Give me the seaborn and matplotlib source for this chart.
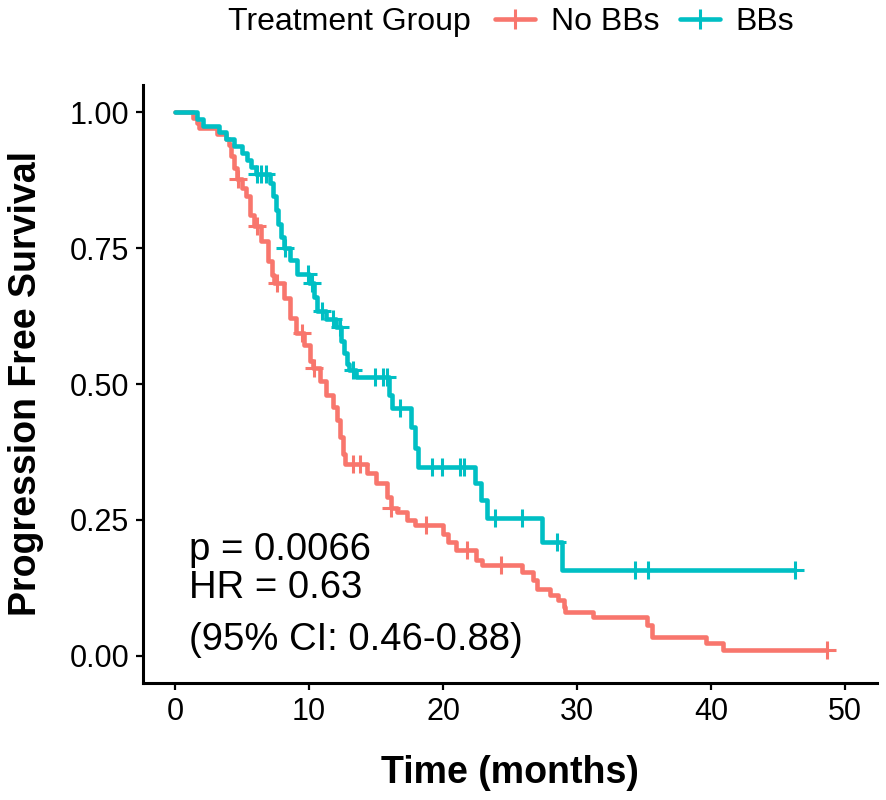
import numpy as np
import pandas as pd
import matplotlib
matplotlib.use("Agg")
import matplotlib.pyplot as plt
from matplotlib.lines import Line2D
import seaborn as sns

# Kaplan-Meier step data (time in months, survival after the drop)
nobb_times = [0, 1.3, 1.6, 1.8, 3.1, 3.8, 4.0, 4.2, 4.4, 4.6, 5.0, 5.3, 5.6, 5.9,
              6.4, 6.9, 7.2, 7.4, 8.1, 8.6, 9.0, 9.6, 10.1, 10.3, 10.8, 11.3, 11.8,
              12.1, 12.3, 12.5, 12.7, 14.3, 15.0, 15.8, 16.1, 16.6, 17.3, 17.9,
              20.0, 20.4, 21.0, 22.5, 22.9, 25.9, 26.7, 27.0, 28.0, 28.6, 29.0,
              29.1, 31.2, 35.2, 35.6, 39.6, 40.9]
nobb_surv = [1.0, 0.99, 0.98, 0.97, 0.96, 0.95, 0.94, 0.92, 0.897, 0.877, 0.86,
             0.846, 0.81, 0.79, 0.763, 0.727, 0.70, 0.686, 0.659, 0.622, 0.593,
             0.571, 0.543, 0.53, 0.506, 0.479, 0.457, 0.433, 0.402, 0.372, 0.352,
             0.336, 0.317, 0.292, 0.272, 0.264, 0.25, 0.24, 0.225, 0.21, 0.194,
             0.176, 0.167, 0.154, 0.139, 0.123, 0.112, 0.103, 0.09, 0.081, 0.072,
             0.057, 0.035, 0.024, 0.011]
nobb_censor = [4.7, 6.1, 7.6, 9.5, 10.4, 13.3, 13.8, 16.1, 18.7, 21.8, 24.3, 48.7]

bb_times = [0, 1.6, 2.1, 3.3, 3.8, 4.4, 5.0, 5.4, 5.7, 6.0, 7.1, 7.3, 7.5, 7.7,
            7.9, 8.1, 8.6, 9.1, 10.0, 10.4, 10.6, 11.3, 12.0, 12.4, 12.6, 12.8,
            13.0, 13.5, 16.0, 16.2, 17.6, 17.9, 18.1, 22.4, 22.8, 23.3, 27.4, 28.9]
bb_surv = [1.0, 0.987, 0.975, 0.963, 0.95, 0.938, 0.925, 0.912, 0.9, 0.887, 0.87,
           0.845, 0.82, 0.795, 0.77, 0.75, 0.728, 0.703, 0.686, 0.66, 0.635, 0.62,
           0.604, 0.58, 0.557, 0.537, 0.525, 0.513, 0.48, 0.455, 0.42, 0.383,
           0.347, 0.317, 0.286, 0.253, 0.209, 0.158]
bb_censor = [6.1, 6.4, 6.8, 8.2, 9.9, 10.2, 11.0, 11.8, 12.3, 13.3, 14.9, 15.5,
             15.8, 16.8, 19.2, 19.9, 21.3, 21.6, 23.9, 25.9, 28.5, 34.3, 35.3, 46.3]

groups = ["No BBs", "BBs"]
colors = {"No BBs": "#F8766D", "BBs": "#00BFC4"}
x_ticks = [0, 10, 20, 30, 40, 50]
y_ticks = [0.0, 0.25, 0.5, 0.75, 1.0]
y_ticklabels = ["0.00", "0.25", "0.50", "0.75", "1.00"]

sns.set_theme(style="ticks")
plt.rcParams["font.family"] = ["Liberation Sans", "DejaVu Sans"]
plt.rcParams["text.color"] = "black"

fig = plt.figure(figsize=(8.86, 8.0), dpi=100)
ax = fig.add_axes([0.1614, 0.14625, 0.8284, 0.7475])

data = {
    "No BBs": (nobb_times, nobb_surv, nobb_censor),
    "BBs": (bb_times, bb_surv, bb_censor),
}

for g in groups:
    times, surv, cens = data[g]
    end = max(cens[-1], times[-1])
    df = pd.DataFrame({"time": list(times) + [end], "surv": list(surv) + [surv[-1]]})
    sns.lineplot(data=df, x="time", y="surv", color=colors[g], linewidth=3.3,
                 drawstyle="steps-post", sort=False, estimator=None, ax=ax)
    # censor marks sit on the step curve
    idx = np.searchsorted(np.array(times), np.array(cens), side="right") - 1
    cdf = pd.DataFrame({"time": cens, "surv": np.array(surv)[idx]})
    sns.scatterplot(data=cdf, x="time", y="surv", marker="+", s=170, linewidth=2.2,
                    color=colors[g], ax=ax, zorder=3)

ax.set_xlim(-2.4, 52.4)
ax.set_ylim(-0.05, 1.05)
ax.set_xticks(x_ticks)
ax.set_yticks(y_ticks)
ax.set_yticklabels(y_ticklabels)
ax.tick_params(axis="both", labelsize=22, length=5, width=1.6, color="black",
               labelcolor="black", pad=5)
for s in ["left", "bottom"]:
    ax.spines[s].set_linewidth(2.2)
    ax.spines[s].set_color("black")
sns.despine(ax=ax)

ax.set_xlabel("Time (months)", fontsize=27, fontweight="bold", color="black")
ax.set_ylabel("Progression Free Survival", fontsize=27, fontweight="bold", color="black")
ax.xaxis.set_label_coords(0.5, -0.12)
ax.yaxis.set_label_coords(-0.135, 0.5)

ax.text(1.0, 0.194, "p = 0.0066", fontsize=27.5, va="center", ha="left", color="black")
ax.text(1.0, 0.125, "HR = 0.63", fontsize=27.5, va="center", ha="left", color="black")
ax.text(1.0, 0.03, "(95% CI: 0.46-0.88)", fontsize=27.5, va="center", ha="left", color="black")

# legend on top: title inline with entries
fig.text(228 / 886, 0.9725, "Treatment Group", fontsize=23, va="center", ha="left",
         color="black")
handles = [Line2D([0], [0], color=colors[g], lw=3.3, marker="+", markersize=14,
                  markeredgewidth=2.2) for g in groups]
fig.legend(handles, groups, loc="center left", bbox_to_anchor=(495 / 886, 0.9725),
           ncol=2, frameon=False, fontsize=23, handlelength=1.26, handletextpad=0.5,
           columnspacing=0.62, borderpad=0, borderaxespad=0, labelcolor="black")

fig.savefig("out.png", dpi=100, facecolor="white")
